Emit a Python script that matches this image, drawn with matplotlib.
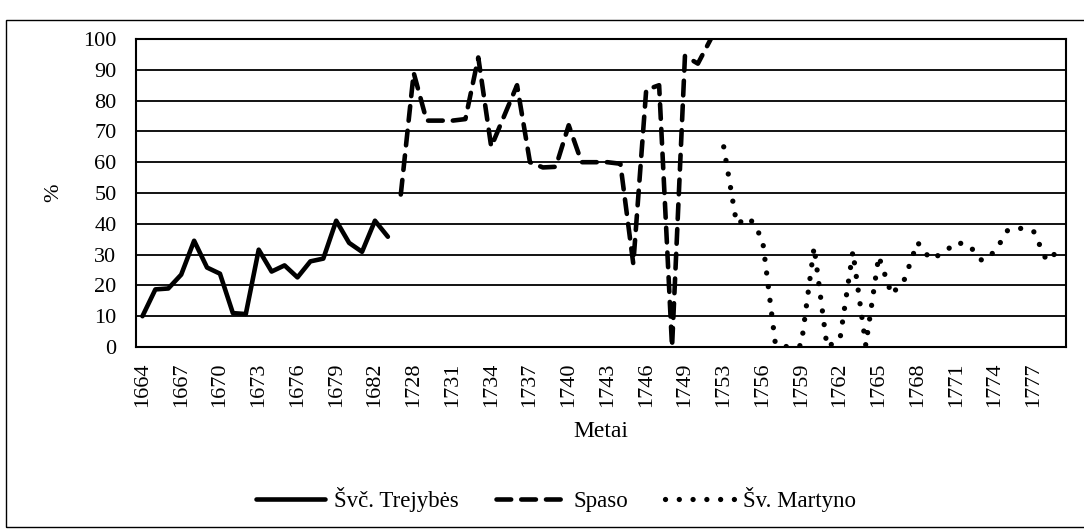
import numpy as np
import matplotlib
matplotlib.use("Agg")
import matplotlib.pyplot as plt
from matplotlib.patches import Rectangle

plt.rcParams['font.family'] = ['Liberation Serif', 'DejaVu Serif']

# Kategorijos (metai) - trys laikotarpiai vienoje ašyje
metai_trejybes = list(range(1664, 1684))
metai_spaso = list(range(1727, 1752))
metai_martyno = list(range(1753, 1780))

# Reikšmės, %
trejybes = [10, 18.7, 19, 23.5, 34.5, 25.8, 23.8, 11, 10.7, 31.6,
            24.5, 26.5, 22.6, 27.8, 28.7, 41, 33.8, 30.9, 41, 35.8]
spaso = [49.5, 89, 73.5, 73.5, 73.5, 74, 94, 65, 75, 85,
         60, 58.3, 58.5, 72, 60, 60, 60, 59.5, 27, 83.5,
         85, 0, 94.5, 92, 100]
martyno = [65, 40, 42, 35, 1, 0, 0.5, 32.5, 0, 2.5,
           31, 0.5, 29.5, 17, 22, 34, 28.5, 30.5, 34, 33,
           28, 31, 38, 38.5, 37.5, 28, 31.5]

kategorijos = metai_trejybes + metai_spaso + metai_martyno
x = np.arange(len(kategorijos))

def pozicijos(metai):
    return [kategorijos.index(m) for m in metai]

fig = plt.figure(figsize=(10.84, 5.32), dpi=100)
ax = fig.add_axes([136 / 1084, 1 - 347 / 532, 930 / 1084, 308 / 532])

lw = 3.3
ax.plot(pozicijos(metai_trejybes), trejybes, color='black', lw=lw,
        solid_joinstyle='round', solid_capstyle='round', label='Švč. Trejybės')
ax.plot(pozicijos(metai_spaso), spaso, color='black', lw=lw,
        linestyle=(0, (3.2, 2.2)), dash_capstyle='round', dash_joinstyle='round',
        label='Spaso')
ax.plot(pozicijos(metai_martyno), martyno, color='black', lw=3.8,
        linestyle=(0, (0.01, 2.6)), dash_capstyle='round', label='Šv. Martyno')

ax.set_xlim(-0.5, len(kategorijos) - 0.5)
ax.set_ylim(0, 100)
ax.set_yticks(np.arange(0, 101, 10))
ax.set_xticks(x[::3])
ax.set_xticklabels([str(k) for k in kategorijos[::3]], rotation=90)
ax.tick_params(axis='both', length=0, labelsize=16)
ax.tick_params(axis='y', pad=14)
ax.tick_params(axis='x', pad=11)
ax.yaxis.grid(True, color='black', lw=1.3)
ax.set_axisbelow(True)
for s in ax.spines.values():
    s.set_linewidth(1.5)
    s.set_color('black')

ax.set_ylabel('%', fontsize=16, labelpad=14)
ax.set_xlabel('Metai', fontsize=17, labelpad=10)

fig.legend(loc='center', bbox_to_anchor=(556 / 1084, 1 - 500 / 532), ncol=3,
           frameon=False, fontsize=16.5, handlelength=3.0, handletextpad=0.4,
           columnspacing=1.6)

# išorinis rėmelis
fig.patches.append(Rectangle((6 / 1084, 1 - 527 / 532), 1.2, 507 / 532,
                             transform=fig.transFigure, fill=False,
                             edgecolor='black', lw=1.0, clip_on=False))

fig.savefig('out.png', dpi=100)
